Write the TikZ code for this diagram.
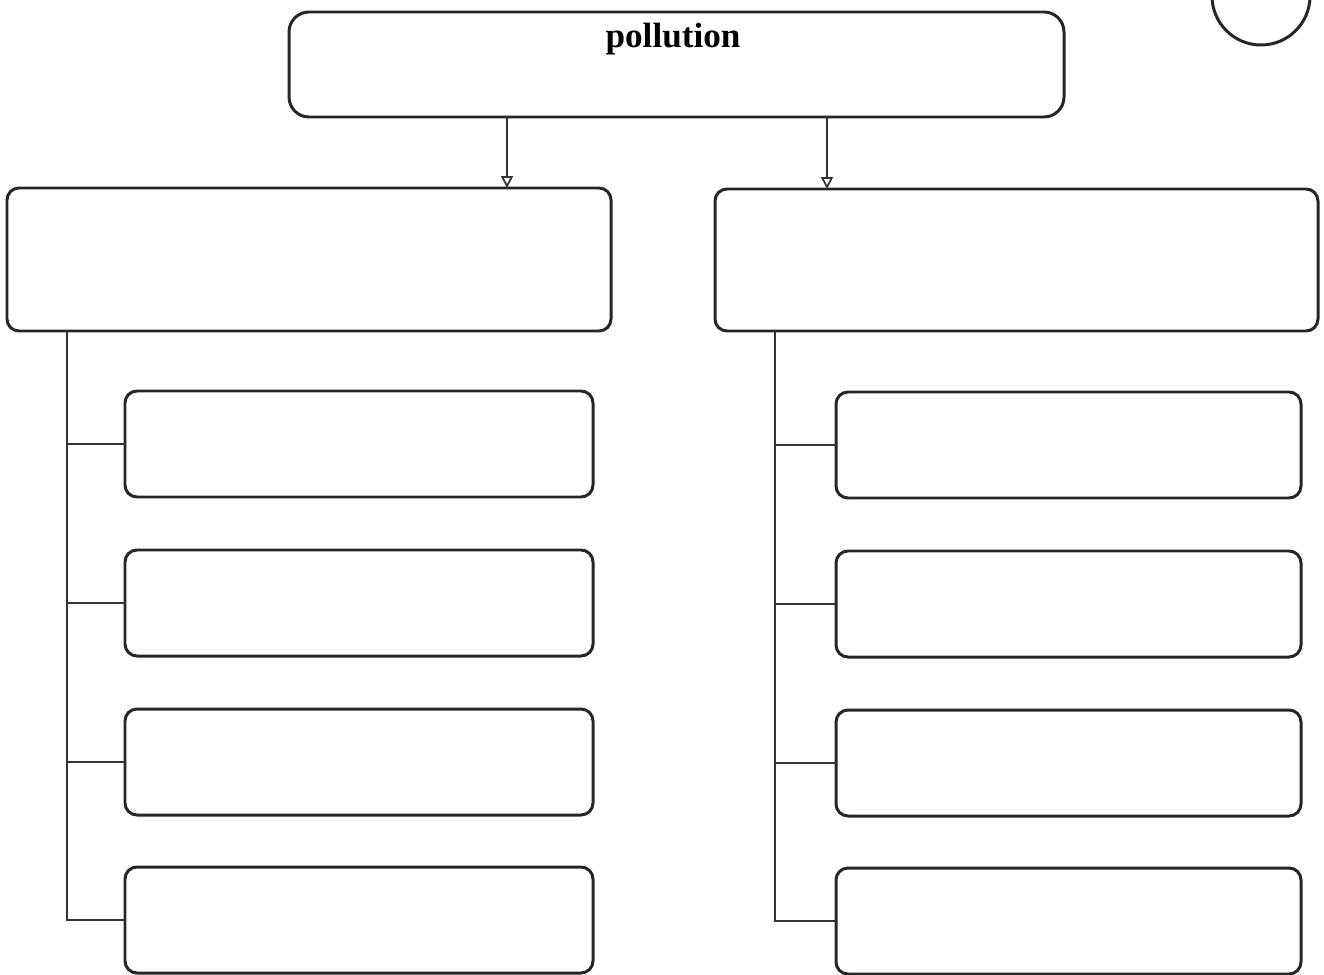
\documentclass[tikz,border=0pt]{standalone}
\usepackage{fontspec}
\setmainfont{Liberation Serif}
\usetikzlibrary{arrows.meta}
\tikzset{box/.style={draw=black!85, line width=0.85pt, rounded corners=1.2mm, inner sep=0pt, outer sep=0pt},
         link/.style={draw=black!80, line width=0.5pt}}
\begin{document}
\begin{tikzpicture}[x=0.1mm, y=-0.1mm]
\useasboundingbox (0,0) rectangle (1324,975);
\node[box, rounded corners=2mm, minimum width=77.5mm, minimum height=10.5mm] (pollution) at (676.5,64.5) {};
\node[font=\bfseries] (title) at (673,39) {pollution};
\node[box, minimum width=60.4mm, minimum height=14.3mm] (left) at (309,259.5) {};
\node[box, minimum width=60.3mm, minimum height=14.2mm] (right) at (1016.5,260) {};
\foreach \i/\y in {1/444,2/603,3/762,4/920}{
  \node[box, minimum width=46.8mm, minimum height=10.6mm] (l\i) at (359,\y) {};
  \node[box, minimum width=46.5mm, minimum height=10.6mm] (r\i) at (1068.5,\y+1) {};
}
\coordinate (lt) at (67,331);
\coordinate (rt) at (775,331);
\foreach \i in {1,...,4}{
  \draw[link] (lt) |- (l\i.west);
  \draw[link] (rt) |- (r\i.west);
}
\draw[link, -{Triangle[open, length=1.2mm, width=1.2mm]}] (pollution.south -| 507,0) -- (left.north -| 507,0);
\draw[link, -{Triangle[open, length=1.2mm, width=1.2mm]}] (pollution.south -| 827,0) -- (right.north -| 827,0);
\draw[black!85, line width=0.85pt] (1261,-4) circle (4.9mm);
\end{tikzpicture}
\end{document}
